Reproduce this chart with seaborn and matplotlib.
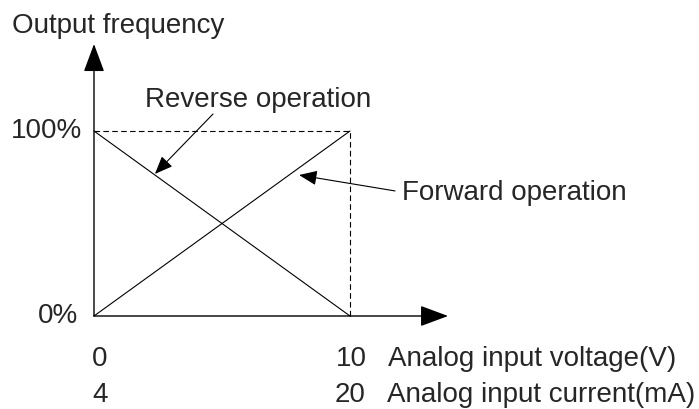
import numpy as np
import pandas as pd
import matplotlib
matplotlib.use("Agg")
import matplotlib.pyplot as plt
import seaborn as sns

# characteristic data (x in volts, y in % of max output frequency)
voltage = [0, 10]
current = [4, 20]
forward = [0, 100]
reverse = [100, 0]
freq_labels = ["0%", "100%"]
x_label_v = "Analog input voltage(V)"
x_label_i = "Analog input current(mA)"
y_label = "Output frequency"

sns.set_style("white")
plt.rcParams['font.family'] = ['Liberation Sans', 'DejaVu Sans']

fig = plt.figure(figsize=(6.99, 4.10), dpi=100)
ax = fig.add_axes([0, 0, 1, 1])
# axis limits chosen so that 0..10 / 0..100 sit where the picture has them
ax.set_xlim(-94 / 25.6, (699 - 94) / 25.6)
ax.set_ylim(-93 / 1.85, (410 - 93) / 1.85)
ax.axis("off")

df = pd.DataFrame({"v": voltage * 2,
                   "f": forward + reverse,
                   "mode": ["fwd"] * 2 + ["rev"] * 2})
sns.lineplot(data=df, x="v", y="f", units="mode", estimator=None,
             color="black", lw=0.8, ax=ax)

# dashed guide lines to the 100% / 10 V corner
ax.plot([voltage[0], voltage[1]], [forward[1], forward[1]], color="black",
        lw=0.8, ls=(0, (5, 3)))
ax.plot([voltage[1], voltage[1]], [forward[0], forward[1]], color="black",
        lw=0.8, ls=(0, (5, 3)))

# axes with big arrowheads
big = dict(arrowstyle="-|>,head_length=1.75,head_width=0.65", color="black",
           lw=1.0, mutation_scale=10, shrinkA=0, shrinkB=0)
ax.annotate("", xy=(13.83, 0), xytext=(0, 0), arrowprops=big)
ax.annotate("", xy=(0, 147.0), xytext=(0, 0), arrowprops=big)

fs = 20
ax.text(-3.20, 153.5, y_label, fontsize=fs, ha="left", va="baseline")
ax.text(-0.47, 96.8, freq_labels[1], fontsize=fs, ha="right", va="baseline")
ax.text(-0.62, -3.2, freq_labels[0], fontsize=fs, ha="right", va="baseline")

ax.text(-0.08, -26.5, str(voltage[0]), fontsize=fs, ha="left", va="baseline")
ax.text(-0.08, -46.0, str(current[0]), fontsize=fs, ha="left", va="baseline")
ax.text(9.45, -26.5, str(voltage[1]), fontsize=fs, ha="left", va="baseline")
ax.text(9.40, -46.0, str(current[1]), fontsize=fs, ha="left", va="baseline")
ax.text(11.48, -26.5, x_label_v, fontsize=fs, ha="left", va="baseline")
ax.text(11.45, -46.0, x_label_i, fontsize=fs, ha="left", va="baseline")

small = dict(arrowstyle="-|>,head_length=1.1,head_width=0.45", color="black",
             lw=0.8, mutation_scale=10, shrinkA=0, shrinkB=0)
ax.text(1.99, 113.5, "Reverse operation", fontsize=fs, ha="left", va="baseline")
ax.annotate("", xy=(2.38, 76.8), xytext=(4.65, 109.2), arrowprops=small)
ax.text(12.03, 63.2, "Forward operation", fontsize=fs, ha="left", va="baseline")
ax.annotate("", xy=(8.01, 76.2), xytext=(11.76, 67.6), arrowprops=small)

fig.savefig("out.png", dpi=100)
